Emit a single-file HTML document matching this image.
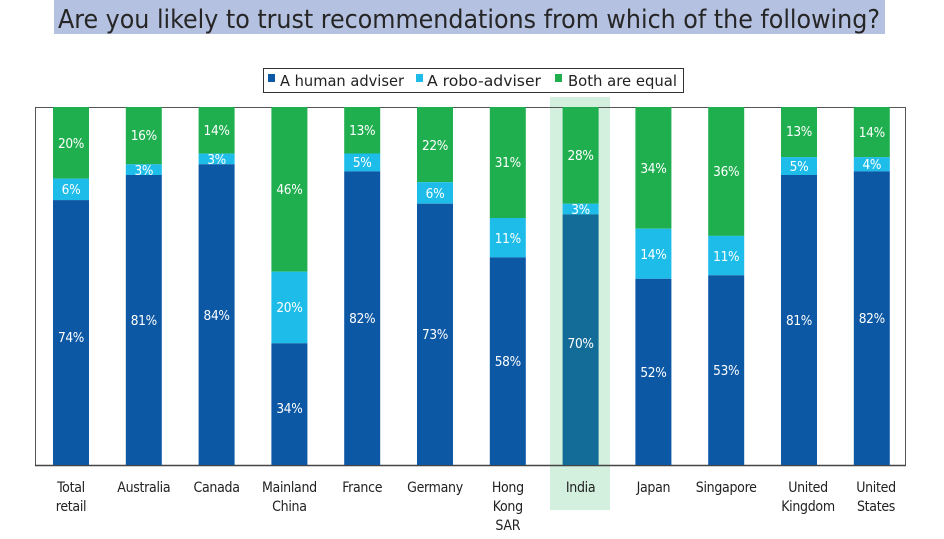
<!DOCTYPE html>
<html><head><meta charset="utf-8"><style>
body{margin:0;background:#fff;width:944px;height:539px;overflow:hidden}
svg{display:block}
text{font-family:"DejaVu Sans Condensed","Liberation Sans",sans-serif}
.v{fill:#fff;font-size:13.5px;text-anchor:middle;letter-spacing:-0.3px}
.c{fill:#222;font-size:14px;text-anchor:middle;letter-spacing:-0.3px}
</style></head><body>
<svg width="944" height="539" viewBox="0 0 944 539">
<rect x="54" y="0" width="831" height="34" fill="#b5c1e0"/>
<text x="469" y="28" font-size="26" fill="#262626" text-anchor="middle" textLength="822" lengthAdjust="spacingAndGlyphs">Are you likely to trust recommendations from which of the following?</text>
<rect x="263.5" y="68.5" width="420" height="24" fill="#fff" stroke="#333" stroke-width="1"/>
<rect x="268" y="74" width="7" height="8" fill="#0c58a4"/>
<text x="280" y="86" font-size="15" fill="#222" textLength="124" lengthAdjust="spacingAndGlyphs">A human adviser</text>
<rect x="416" y="74" width="7" height="8" fill="#1ebde9"/>
<text x="427" y="86" font-size="15" fill="#222" textLength="114" lengthAdjust="spacingAndGlyphs">A robo-adviser</text>
<rect x="555" y="74" width="7" height="8" fill="#1faf4f"/>
<text x="568" y="86" font-size="15" fill="#222" textLength="109" lengthAdjust="spacingAndGlyphs">Both are equal</text>
<rect x="550" y="97" width="60" height="413" fill="#d3efdd"/>
<rect x="35.5" y="107.5" width="870" height="358" fill="none" stroke="#555" stroke-width="1"/>
<line x1="35" y1="465.5" x2="906" y2="465.5" stroke="#444" stroke-width="1.5"/>
<g>
<rect x="53" y="107" width="36" height="71.6" fill="#1faf4f"/><rect x="53" y="178.6" width="36" height="21.5" fill="#1ebde9"/><rect x="53" y="200.1" width="36" height="264.9" fill="#0c58a4"/>
<rect x="125.8" y="107" width="36" height="57.3" fill="#1faf4f"/><rect x="125.8" y="164.3" width="36" height="10.7" fill="#1ebde9"/><rect x="125.8" y="175" width="36" height="290" fill="#0c58a4"/>
<rect x="198.6" y="107" width="36" height="46.6" fill="#1faf4f"/><rect x="198.6" y="153.6" width="36" height="10.7" fill="#1ebde9"/><rect x="198.6" y="164.3" width="36" height="300.7" fill="#0c58a4"/>
<rect x="271.4" y="107" width="36" height="164.7" fill="#1faf4f"/><rect x="271.4" y="271.7" width="36" height="71.6" fill="#1ebde9"/><rect x="271.4" y="343.3" width="36" height="121.7" fill="#0c58a4"/>
<rect x="344.2" y="107" width="36" height="46.5" fill="#1faf4f"/><rect x="344.2" y="153.5" width="36" height="17.9" fill="#1ebde9"/><rect x="344.2" y="171.4" width="36" height="293.6" fill="#0c58a4"/>
<rect x="417" y="107" width="36" height="75.2" fill="#1faf4f"/><rect x="417" y="182.2" width="36" height="21.5" fill="#1ebde9"/><rect x="417" y="203.7" width="36" height="261.3" fill="#0c58a4"/>
<rect x="489.8" y="107" width="36" height="111" fill="#1faf4f"/><rect x="489.8" y="218" width="36" height="39.4" fill="#1ebde9"/><rect x="489.8" y="257.4" width="36" height="207.6" fill="#0c58a4"/>
<rect x="562.6" y="107" width="36" height="96.7" fill="#1faf4f"/><rect x="562.6" y="203.7" width="36" height="10.7" fill="#1ebde9"/><rect x="562.6" y="214.4" width="36" height="250.6" fill="#136b98"/>
<rect x="635.4" y="107" width="36" height="121.7" fill="#1faf4f"/><rect x="635.4" y="228.7" width="36" height="50.1" fill="#1ebde9"/><rect x="635.4" y="278.8" width="36" height="186.2" fill="#0c58a4"/>
<rect x="708.2" y="107" width="36" height="128.9" fill="#1faf4f"/><rect x="708.2" y="235.9" width="36" height="39.4" fill="#1ebde9"/><rect x="708.2" y="275.3" width="36" height="189.7" fill="#0c58a4"/>
<rect x="781" y="107" width="36" height="50.1" fill="#1faf4f"/><rect x="781" y="157.1" width="36" height="17.9" fill="#1ebde9"/><rect x="781" y="175" width="36" height="290" fill="#0c58a4"/>
<rect x="853.8" y="107" width="36" height="50.1" fill="#1faf4f"/><rect x="853.8" y="157.1" width="36" height="14.3" fill="#1ebde9"/><rect x="853.8" y="171.4" width="36" height="293.6" fill="#0c58a4"/>
</g>
<g>
<text class="v" x="71" y="148">20%</text><text class="v" x="71" y="194">6%</text><text class="v" x="71" y="342">74%</text>
<text class="v" x="143.8" y="140">16%</text><text class="v" x="143.8" y="175">3%</text><text class="v" x="143.8" y="325">81%</text>
<text class="v" x="216.6" y="135">14%</text><text class="v" x="216.6" y="164">3%</text><text class="v" x="216.6" y="320">84%</text>
<text class="v" x="289.4" y="194">46%</text><text class="v" x="289.4" y="312">20%</text><text class="v" x="289.4" y="413">34%</text>
<text class="v" x="362.2" y="135">13%</text><text class="v" x="362.2" y="167">5%</text><text class="v" x="362.2" y="323">82%</text>
<text class="v" x="435" y="150">22%</text><text class="v" x="435" y="198">6%</text><text class="v" x="435" y="339">73%</text>
<text class="v" x="507.8" y="167">31%</text><text class="v" x="507.8" y="243">11%</text><text class="v" x="507.8" y="366">58%</text>
<text class="v" x="580.6" y="160">28%</text><text class="v" x="580.6" y="214">3%</text><text class="v" x="580.6" y="348">70%</text>
<text class="v" x="653.4" y="173">34%</text><text class="v" x="653.4" y="259">14%</text><text class="v" x="653.4" y="377">52%</text>
<text class="v" x="726.2" y="176">36%</text><text class="v" x="726.2" y="261">11%</text><text class="v" x="726.2" y="375">53%</text>
<text class="v" x="799" y="136">13%</text><text class="v" x="799" y="171">5%</text><text class="v" x="799" y="325">81%</text>
<text class="v" x="871.8" y="137">14%</text><text class="v" x="871.8" y="169">4%</text><text class="v" x="871.8" y="323">82%</text>
</g>
<g>
<text class="c" x="71" y="492">Total</text><text class="c" x="71" y="511">retail</text>
<text class="c" x="143.8" y="492">Australia</text>
<text class="c" x="216.6" y="492">Canada</text>
<text class="c" x="289.4" y="492">Mainland</text><text class="c" x="289.4" y="511">China</text>
<text class="c" x="362.2" y="492">France</text>
<text class="c" x="435" y="492">Germany</text>
<text class="c" x="507.8" y="492">Hong</text><text class="c" x="507.8" y="511">Kong</text><text class="c" x="507.8" y="530">SAR</text>
<text class="c" x="580.6" y="492">India</text>
<text class="c" x="653.4" y="492">Japan</text>
<text class="c" x="726.2" y="492">Singapore</text>
<text class="c" x="808" y="492">United</text><text class="c" x="808" y="511">Kingdom</text>
<text class="c" x="876" y="492">United</text><text class="c" x="876" y="511">States</text>
</g>
</svg>
</body></html>
